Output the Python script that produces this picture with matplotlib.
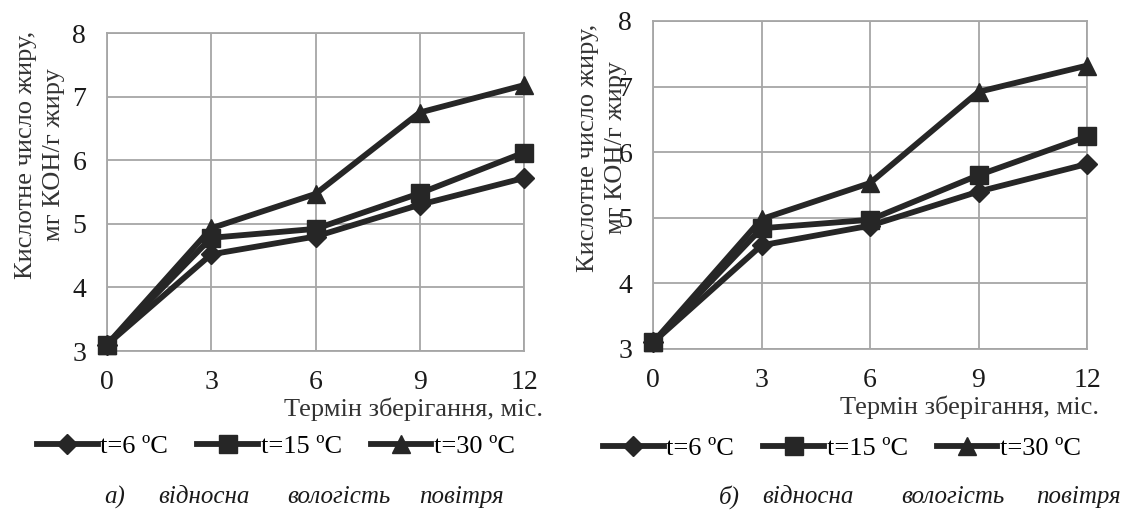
import matplotlib

matplotlib.use("Agg")

import matplotlib.pyplot as plt


MONTHS = [0, 3, 6, 9, 12]
SERIES_LABELS = ["t=6 ºC", "t=15 ºC", "t=30 ºC"]
MARKERS = ["D", "s", "^"]
MARKER_SIZES = [10, 13, 13]

# panel a
ACID_A_6 = [3.1, 4.52, 4.80, 5.30, 5.72]
ACID_A_15 = [3.1, 4.78, 4.92, 5.48, 6.12]
ACID_A_30 = [3.1, 4.93, 5.47, 6.75, 7.18]

# panel b
ACID_B_6 = [3.1, 4.58, 4.88, 5.40, 5.82]
ACID_B_15 = [3.1, 4.84, 4.97, 5.65, 6.24]
ACID_B_30 = [3.1, 4.98, 5.53, 6.92, 7.32]

Y_TICKS = [3, 4, 5, 6, 7, 8]
Y_LABEL = "Кислотне число жиру,\nмг КОН/г жиру"
X_LABEL = "Термін зберігання, міс."
CAPTION_A = ["а)", "відносна", "вологість", "повітря"]
CAPTION_B = ["б)", "відносна", "вологість", "повітря"]

LINE_COLOR = "#262626"
GRID_COLOR = "#a6a6a6"
TEXT_COLOR = "#1a1a1a"
LABEL_COLOR = "#333333"

plt.rcParams["font.family"] = ["Liberation Serif", "DejaVu Serif"]

W, H = 1131, 524
fig = plt.figure(figsize=(W / 100, H / 100), dpi=100)


def px_box(x0, y0, x1, y1):
    return [x0 / W, 1 - y1 / H, (x1 - x0) / W, (y1 - y0) / H]


def draw_panel(box, series, ylabel_xy, xlabel_xy, legend_xy, caption_words, caption_xs):
    ax = fig.add_axes(box)
    for values, label, marker, msize in zip(series, SERIES_LABELS, MARKERS, MARKER_SIZES):
        ax.plot(
            MONTHS,
            values,
            color=LINE_COLOR,
            linewidth=4.2,
            marker=marker,
            markersize=msize,
            label=label,
            clip_on=False,
            zorder=3,
        )

    ax.set_xlim(0, 12)
    ax.set_ylim(3, 8)
    ax.set_xticks(MONTHS)
    ax.set_yticks(Y_TICKS)
    ax.grid(True, color=GRID_COLOR, linewidth=1.3)
    ax.set_axisbelow(True)
    for spine in ax.spines.values():
        spine.set_color(GRID_COLOR)
        spine.set_linewidth(1.3)
    ax.tick_params(axis="both", length=0, labelsize=20, colors=TEXT_COLOR)
    ax.tick_params(axis="x", pad=14)
    ax.tick_params(axis="y", pad=15)

    fig.text(
        ylabel_xy[0] / W,
        1 - ylabel_xy[1] / H,
        Y_LABEL,
        rotation=90,
        ha="center",
        va="center",
        multialignment="center",
        fontsize=19,
        color=LABEL_COLOR,
        linespacing=1.3,
    )
    fig.text(
        xlabel_xy[0] / W,
        1 - xlabel_xy[1] / H,
        X_LABEL,
        ha="right",
        va="center",
        fontsize=19,
        color=LABEL_COLOR,
    )

    handles, labels = ax.get_legend_handles_labels()
    fig.legend(
        handles,
        labels,
        loc="center left",
        bbox_to_anchor=(legend_xy[0] / W, 1 - legend_xy[1] / H),
        ncol=3,
        frameon=False,
        fontsize=19,
        handlelength=2.3,
        handletextpad=0.1,
        columnspacing=1.1,
        borderpad=0,
        borderaxespad=0,
    )

    for word, x in zip(caption_words, caption_xs):
        fig.text(
            x / W,
            1 - 497 / H,
            word,
            ha="left",
            va="center",
            fontsize=18,
            style="italic",
            color=TEXT_COLOR,
        )
    return ax


draw_panel(
    px_box(107, 33, 524, 351),
    [ACID_A_6, ACID_A_15, ACID_A_30],
    ylabel_xy=(40, 155),
    xlabel_xy=(543, 409),
    legend_xy=(37, 446),
    caption_words=CAPTION_A,
    caption_xs=[104, 158, 287, 419],
)

draw_panel(
    px_box(653, 21, 1087, 349),
    [ACID_B_6, ACID_B_15, ACID_B_30],
    ylabel_xy=(602, 148),
    xlabel_xy=(1099, 407),
    legend_xy=(603, 448),
    caption_words=CAPTION_B,
    caption_xs=[719, 762, 901, 1036],
)

fig.savefig("out.png", dpi=100)
